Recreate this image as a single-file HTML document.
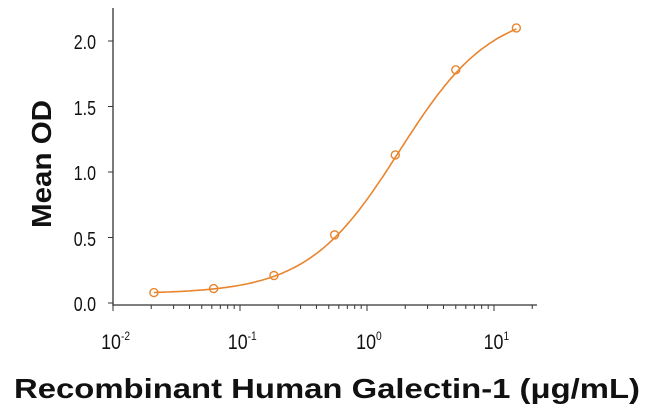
<!DOCTYPE html>
<html><head><meta charset="utf-8"><style>
body{margin:0;background:#fff;width:650px;height:415px;overflow:hidden}
svg{display:block}
text{font-family:"Liberation Sans",sans-serif}
</style></head><body>
<svg id="s" width="650" height="415" viewBox="0 0 650 415">
<g stroke="#333" stroke-width="1.3" fill="none">
<line x1="113" y1="8" x2="113" y2="306"/>
<line x1="113" y1="305" x2="537" y2="305"/>
</g>
<g id="ticks" stroke="#333" stroke-width="1"></g>
<g font-size="20" fill="#111" text-anchor="end" transform="scale(0.8,1)">
<text x="120" y="311">0.0</text>
<text x="120" y="246">0.5</text>
<text x="120" y="180">1.0</text>
<text x="120" y="115">1.5</text>
<text x="120" y="49">2.0</text>
</g>
<g font-size="21" fill="#111" text-anchor="middle" transform="scale(0.85,1)">
<text x="136" y="349">10<tspan font-size="12" dy="-9">-2</tspan></text>
<text x="285" y="349">10<tspan font-size="12" dy="-9">-1</tspan></text>
<text x="434" y="349">10<tspan font-size="12" dy="-9">0</tspan></text>
<text x="584" y="349">10<tspan font-size="12" dy="-9">1</tspan></text>
</g>
<text transform="translate(51,164) rotate(-90)" font-size="28" font-weight="bold" text-anchor="middle" fill="#111" textLength="128" lengthAdjust="spacingAndGlyphs">Mean OD</text>
<text x="14" y="398" font-size="28" font-weight="bold" fill="#111" textLength="626" lengthAdjust="spacingAndGlyphs">Recombinant Human Galectin-1 (μg/mL)</text>
<path id="curve" fill="none" stroke="#e8852e" stroke-width="1.6"/>
<g id="pts" fill="none" stroke="#e8852e" stroke-width="1.4"></g>
</svg>
<script>
var X=function(v){return 113+127*(Math.log10(v)+2)};
var Y=function(v){return 303-131*v};
var f=function(x){var r=Math.pow(x/1.8,1.2);return 0.07+2.18*r/(1+r)};
var d="";for(var i=0;i<=200;i++){var lx=Math.log10(0.021)+(Math.log10(15)-Math.log10(0.021))*i/200;var x=Math.pow(10,lx);d+=(i?"L":"M")+X(x).toFixed(1)+","+Y(f(x)).toFixed(1);}
document.getElementById("curve").setAttribute("d",d);
var pts=[[0.021,0.08],[0.062,0.11],[0.185,0.21],[0.556,0.52],[1.67,1.13],[5,1.78],[15,2.10]];
var g=document.getElementById("pts"),h="";
pts.forEach(function(p){var cx=X(p[0]),cy=Y(p[1]);h+='<circle cx="'+cx+'" cy="'+cy+'" r="4"/>';});
g.innerHTML=h;
var t="";
for(var e=-2;e<=1;e++){for(var m=1;m<=9;m++){var v=m*Math.pow(10,e);if(v>22)break;var x=X(v);t+='<line x1="'+x+'" x2="'+x+'" y1="305" y2="'+(m==1?311:309)+'"/>';}}
[0,0.5,1,1.5,2].forEach(function(v){t+='<line x1="108" x2="113" y1="'+Y(v)+'" y2="'+Y(v)+'"/>';});
document.getElementById("ticks").innerHTML=t;
</script>
</body></html>
